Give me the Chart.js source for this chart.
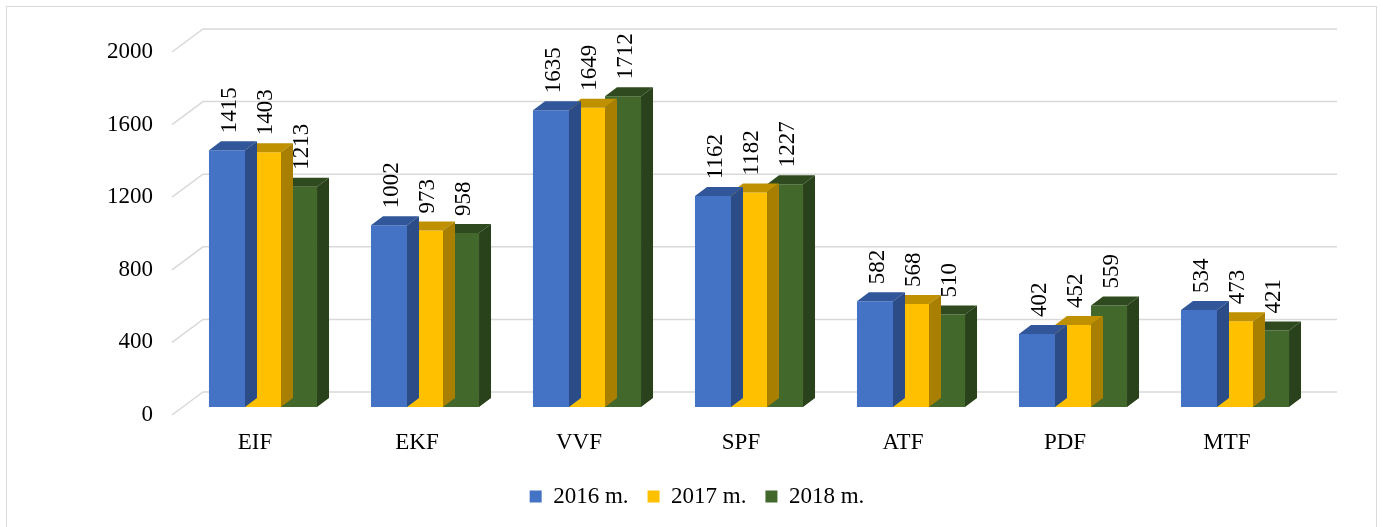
<!DOCTYPE html>
<html>
<head>
<meta charset="utf-8">
<script src="https://cdn.jsdelivr.net/npm/chart.js@4/dist/chart.umd.min.js"></script>
<style>
  html, body { margin: 0; padding: 0; background: #fff; }
  #wrap { position: relative; width: 1384px; height: 527px; }
  #frame { position: absolute; left: 6px; top: 6px; width: 1371px; height: 540px;
           border: 1.5px solid #d9d9d9; box-sizing: border-box; pointer-events: none; }
</style>
</head>
<body>
<div id="wrap">
  <canvas id="fakultetai" width="1384" height="527"></canvas>
  <div id="frame"></div>
</div>
<script>
var categories = ["EIF", "EKF", "VVF", "SPF", "ATF", "PDF", "MTF"];
var seriesNames = ["2016 m.", "2017 m.", "2018 m."];
var values2016 = [1415, 1002, 1635, 1162, 582, 402, 534];
var values2017 = [1403, 973, 1649, 1182, 568, 452, 473];
var values2018 = [1213, 958, 1712, 1227, 510, 559, 421];
var yTicks = [0, 400, 800, 1200, 1600, 2000];

var frontColors = ['#4472C4', '#FFC000', '#43682B'];
var topColors = ['#31579A', '#BF9000', '#2F4A1E'];
var sideColors = ['#2B4C86', '#A87F00', '#2A421B'];

var depthX = 12, depthY = 9;
var fontName = '"Liberation Serif", "Times New Roman", serif';

// back wall + diagonal gridlines
var wallPlugin = {
    id: 'wall',
    beforeDatasetsDraw: function (chart) {
        var ctx = chart.ctx;
        var area = chart.chartArea;
        var y = chart.scales.y;
        ctx.save();
        ctx.strokeStyle = '#d9d9d9';
        ctx.lineWidth = 1.5;
        yTicks.forEach(function (v) {
            var py = y.getPixelForValue(v);
            ctx.beginPath();
            ctx.moveTo(area.left - 10, py + 8);
            ctx.lineTo(area.left + 21, py - 15);
            ctx.lineTo(area.right + 21, py - 15);
            ctx.stroke();
        });
        ctx.restore();
    }
};

// top and side faces, then rotated value labels
var boxPlugin = {
    id: 'box3d',
    afterDatasetDraw: function (chart, args) {
        var ctx = chart.ctx;
        var i = args.index;
        ctx.save();
        args.meta.data.forEach(function (bar) {
            var x0 = bar.x - bar.width / 2;
            var x1 = bar.x + bar.width / 2;
            var top = bar.y;
            var bottom = bar.base;
            ctx.fillStyle = topColors[i];
            ctx.beginPath();
            ctx.moveTo(x0, top);
            ctx.lineTo(x0 + depthX, top - depthY);
            ctx.lineTo(x1 + depthX, top - depthY);
            ctx.lineTo(x1, top);
            ctx.closePath();
            ctx.fill();
            ctx.fillStyle = sideColors[i];
            ctx.beginPath();
            ctx.moveTo(x1, top);
            ctx.lineTo(x1 + depthX, top - depthY);
            ctx.lineTo(x1 + depthX, bottom - depthY);
            ctx.lineTo(x1, bottom);
            ctx.closePath();
            ctx.fill();
        });
        ctx.restore();
    },
    afterDatasetsDraw: function (chart) {
        var ctx = chart.ctx;
        ctx.save();
        ctx.fillStyle = '#000';
        ctx.font = '23px ' + fontName;
        ctx.textAlign = 'left';
        ctx.textBaseline = 'middle';
        chart.data.datasets.forEach(function (ds, i) {
            chart.getDatasetMeta(i).data.forEach(function (bar, j) {
                ctx.save();
                ctx.translate(bar.x + 3, bar.y - 17);
                ctx.rotate(-Math.PI / 2);
                ctx.fillText(String(ds.data[j]), 0, 0);
                ctx.restore();
            });
        });
        ctx.restore();
    }
};

var data = {
    labels: categories,
    datasets: [
        { label: seriesNames[0], data: values2016, backgroundColor: frontColors[0] },
        { label: seriesNames[1], data: values2017, backgroundColor: frontColors[1] },
        { label: seriesNames[2], data: values2018, backgroundColor: frontColors[2] }
    ]
};

var options = {
    responsive: false,
    animation: false,
    layout: { padding: { top: 44, right: 0, left: 10, bottom: 9 } },
    categoryPercentage: 0.667,
    barPercentage: 1,
    plugins: {
        legend: {
            display: true,
            position: 'bottom',
            labels: {
                color: '#000',
                boxWidth: 12,
                boxHeight: 12,
                padding: 19,
                font: { family: fontName, size: 23 }
            }
        },
        tooltip: { enabled: false }
    },
    scales: {
        x: {
            grid: { display: false, drawTicks: false },
            border: { display: false },
            ticks: {
                color: '#000',
                padding: 22,
                labelOffset: -8,
                font: { family: fontName, size: 23 }
            },
            afterFit: function (scale) { scale.height = 59; }
        },
        y: {
            min: 0,
            max: 2000,
            grid: { display: false, drawTicks: false },
            border: { display: false },
            ticks: {
                stepSize: 400,
                color: '#000',
                padding: 29,
                labelOffset: 8,
                font: { family: fontName, size: 23 },
                callback: function (v) { return String(v); }
            },
            afterFit: function (scale) { scale.width = 172; }
        },
        // empty right-hand space so the legend stays centred on the page
        yRight: {
            position: 'right',
            display: true,
            grid: { display: false, drawTicks: false },
            border: { display: false },
            ticks: { display: false },
            afterFit: function (scale) { scale.width = 68; }
        }
    }
};

var ctx = document.getElementById('fakultetai').getContext('2d');
var myChart = new Chart(ctx, {
    type: 'bar',
    data: data,
    options: options,
    plugins: [wallPlugin, boxPlugin]
});
</script>
</body>
</html>
